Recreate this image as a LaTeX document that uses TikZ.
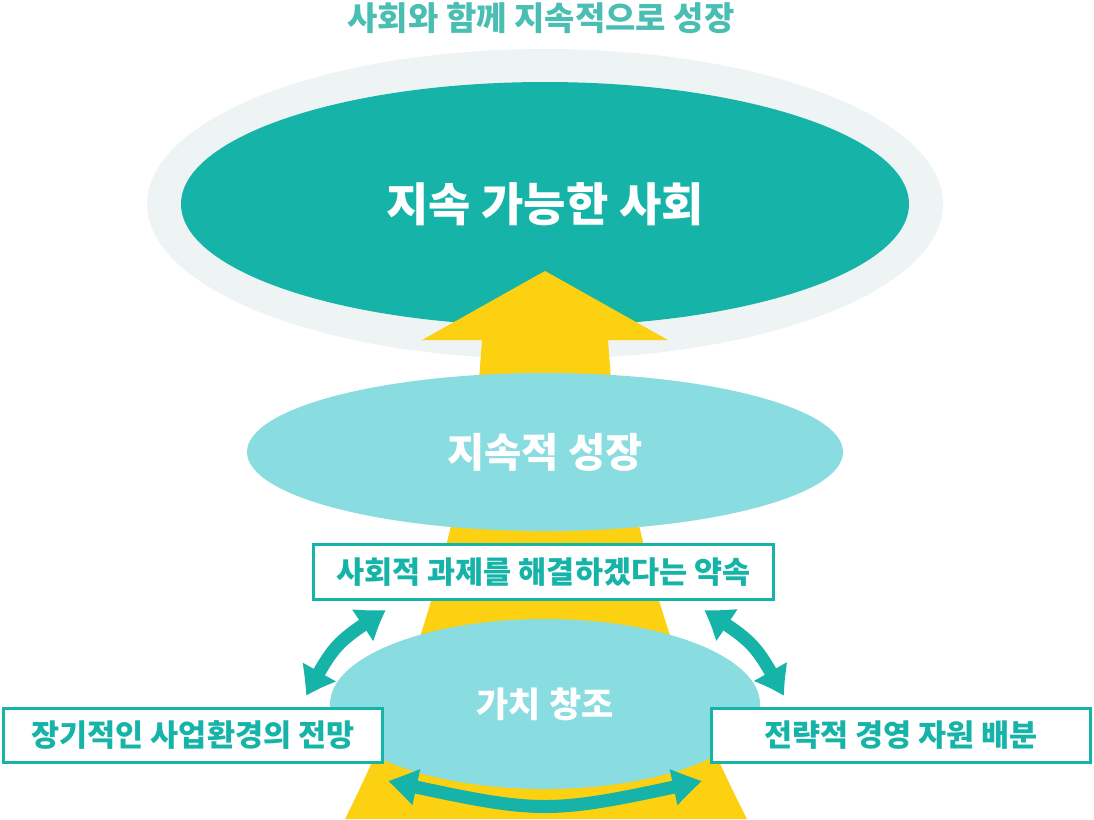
\documentclass[tikz,border=0pt]{standalone}
\usepackage{fontspec}
\setmainfont{Noto Sans CJK KR}
\usetikzlibrary{shapes.geometric,arrows.meta,bending}
\definecolor{sdgteal}{HTML}{16B4A8}
\definecolor{mottoteal}{HTML}{4BBEB3}
\definecolor{haloring}{HTML}{EEF4F4}
\definecolor{paleteal}{HTML}{89DCE0}
\definecolor{gold}{HTML}{FCD112}
\begin{document}
\begin{tikzpicture}[x=1pt, y=-1pt,
every node/.style={align=center, inner sep=0pt},
blob/.style={shape=ellipse, text=white},
tagbox/.style={shape=rectangle, draw=sdgteal, line width=3pt, fill=white, text=sdgteal, font=\bfseries\fontsize{30.5}{34}\selectfont},
link/.style={draw=sdgteal, line width=13pt, {Triangle[width=34pt,length=30pt,bend]}-{Triangle[width=34pt,length=30pt,bend]}}]
\useasboundingbox (0,0) rectangle (1094,819);
\node(motto)[text=mottoteal, font=\bfseries\fontsize{33}{38}\selectfont] at (541,18) {사회와 함께 지속적으로 성장};
\node(halo)[blob, fill=haloring, minimum width=796, minimum height=310] at (545,204) {};
\node(society)[blob, fill=sdgteal, minimum width=728, minimum height=244, font=\bfseries\fontsize{46}{52}\selectfont] at (545,204) {지속 가능한 사회};
\fill[gold] (545,271) -- (668,340) -- (608,340) -- (611,380) .. controls (630,500) and (660,650) .. (747,819)
  -- (345,819) .. controls (430,650) and (460,500) .. (479,380) -- (482,340) -- (422,340) -- cycle;
\node(growth)[blob, fill=paleteal, minimum width=596, minimum height=158, font=\bfseries\fontsize{40.5}{46}\selectfont] at (545,452) {지속적 성장};
\node(promise)[tagbox, minimum width=460, minimum height=55] at (543.5,572) {사회적 과제를 해결하겠다는 약속};
\node(value)[blob, fill=paleteal, minimum width=430, minimum height=170, font=\bfseries\fontsize{35}{40}\selectfont] at (545,704) {가치 창조};
\node(outlook)[tagbox, minimum width=379, minimum height=54] at (193,735.5) {장기적인 사업환경의 전망};
\node(resources)[tagbox, minimum width=379, minimum height=54] at (901,735.5) {전략적 경영 자원 배분};
\coordinate(outlook-end) at (306,696);
\coordinate(promise-left) at (386,610);
\coordinate(promise-right) at (704,610);
\coordinate(resources-end) at (784,696);
\coordinate(value-left) at (388,781);
\coordinate(value-right) at (702,781);
\draw[link] (outlook-end) .. controls (335,643) .. (promise-left);
\draw[link] (promise-right) .. controls (755,643) .. (resources-end);
\draw[link] (value-left) .. controls (545,815) .. (value-right);
\end{tikzpicture}
\end{document}
